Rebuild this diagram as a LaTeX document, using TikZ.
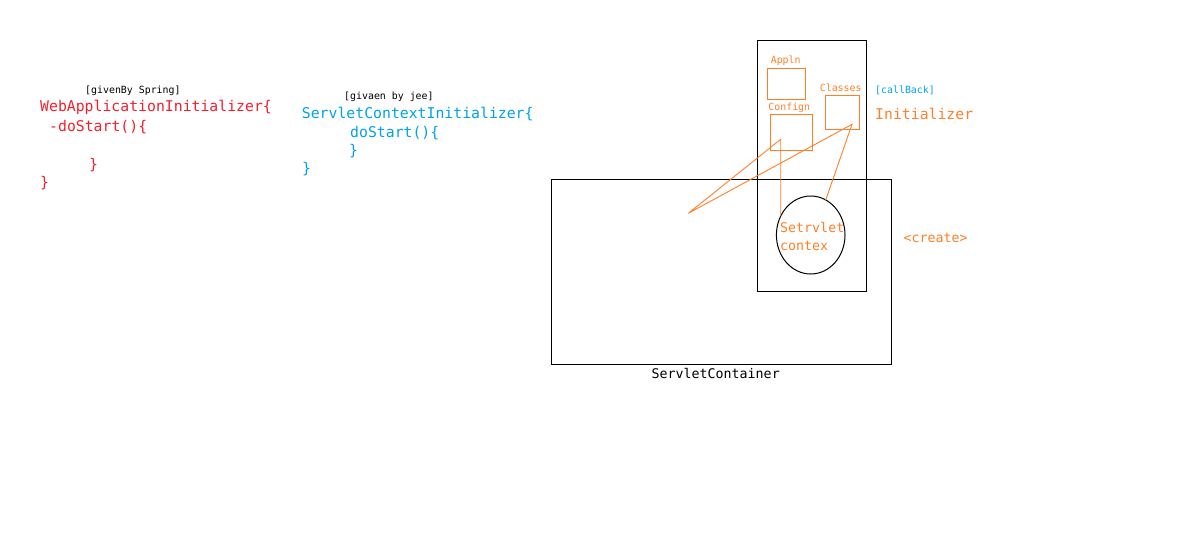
\documentclass[tikz,border=0pt]{standalone}
\usepackage{fontspec}
\setmonofont{DejaVu Sans Mono}
\usetikzlibrary{shapes.geometric}
\definecolor{pred}{RGB}{245,30,45}
\definecolor{pblue}{RGB}{0,162,232}
\definecolor{porange}{RGB}{255,127,39}
\tikzset{
  txt/.style={inner sep=0pt, font=\ttfamily\fontsize{14.8}{16}\selectfont},
  small/.style={inner sep=0pt, font=\ttfamily\fontsize{9.9}{11}\selectfont},
  mid/.style={inner sep=0pt, font=\ttfamily\fontsize{13.3}{15}\selectfont},
  blk/.style={draw=black, line width=1pt, inner sep=0pt},
  obox/.style={draw=porange, line width=1pt, inner sep=0pt},
  oline/.style={draw=porange, line width=0.9pt},
}
\begin{document}
\begin{tikzpicture}[x=1pt,y=-1pt]
\useasboundingbox (0,0) rectangle (1180,535);
% left code (red)
\node[small, anchor=west] (gs) at (85,91) {[givenBy Spring]};
\node[txt, anchor=west, text=pred] (w1) at (40,107) {WebApplicationInitializer\{};
\node[txt, anchor=west, text=pred] (w2) at (49,126.7) {-doStart()\{};
\node[txt, anchor=west, text=pred] (w3) at (89,165) {\}};
\node[txt, anchor=west, text=pred] (w4) at (40,183) {\}};
% middle code (blue)
\node[small, anchor=west] (gj) at (344,96.7) {[givaen by jee]};
\node[txt, anchor=west, text=pblue] (s1) at (301.7,114.3) {ServletContextInitializer\{};
\node[txt, anchor=west, text=pblue] (s2) at (350,132.7) {doStart()\{};
\node[txt, anchor=west, text=pblue] (s3) at (349,151) {\}};
\node[txt, anchor=west, text=pblue] (s4) at (302,169.5) {\}};
% container
\node[blk, minimum width=340pt, minimum height=185pt] (cont) at (721.3,271.8) {};
\node[mid, anchor=center] (contl) at (715.7,373.3) {ServletContainer};
% tall rect
\node[blk, minimum width=108.7pt, minimum height=251pt] (app) at (811.7,165.8) {};
% small boxes
\node[obox, minimum width=38pt, minimum height=30.7pt] (appln) at (786.3,83.7) {};
\node[small, text=porange] (applnl) at (785.7,61) {Appln};
\node[obox, minimum width=42pt, minimum height=36pt] (conf) at (791.3,132.3) {};
\node[small, text=porange] (confl) at (789.3,107.7) {Confign};
\node[obox, minimum width=34pt, minimum height=33.7pt] (cls) at (842.3,112.2) {};
\node[small, text=porange] (clsl) at (840.7,87.3) {Classes};
% ellipse
\node[ellipse, draw=black, line width=1pt, minimum width=68.6pt, minimum height=78pt, inner sep=0pt] (ctx) at (810.7,235) {};
\node[mid, anchor=west, text=porange] (ctx1) at (780,227.7) {Setrvlet};
\node[mid, anchor=west, text=porange] (ctx2) at (780,245.7) {contex};
% right labels
\node[small, anchor=west, text=pblue] (cb) at (875,90) {[callBack]};
\node[txt, anchor=west, text=porange] (ini) at (875,114.3) {Initializer};
\node[mid, anchor=west, text=porange] (cr) at (903.3,238.3) {<create>};
% orange lines
\coordinate (p1) at (780.7,139.3);
\coordinate (p2) at (852,124.3);
\coordinate (pl) at (688.3,213.3);
\coordinate (e1) at (780.7,216);
\coordinate (e2) at (825.7,200);
\draw[oline] (e1) -- (p1) -- (pl) -- (p2) -- (e2);
\end{tikzpicture}
\end{document}
